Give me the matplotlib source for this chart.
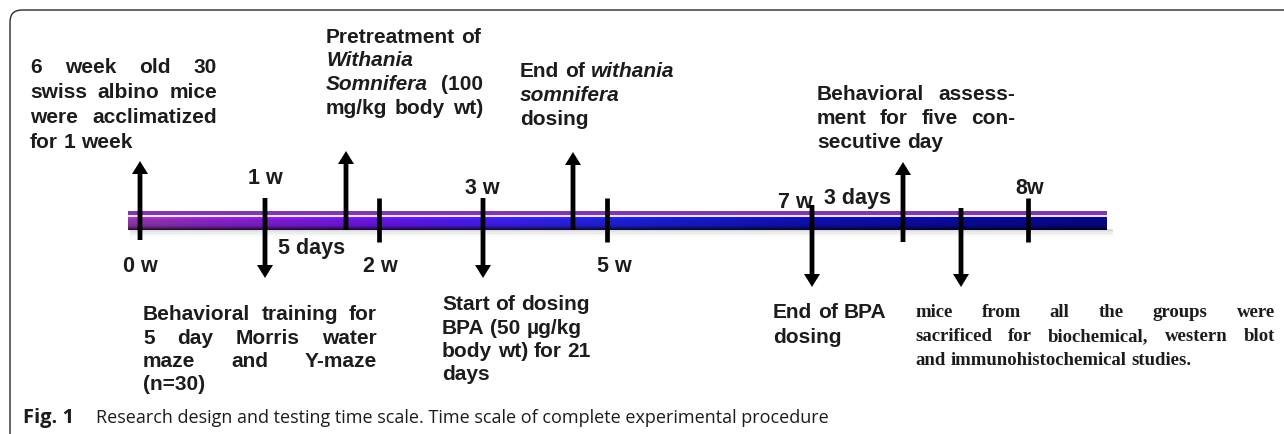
import numpy as np
import matplotlib
matplotlib.use("Agg")
import matplotlib.pyplot as plt
from matplotlib.patches import FancyBboxPatch, Rectangle
from matplotlib.colors import LinearSegmentedColormap

# timeline positions (pixel x of each event on the bar)
tick_x = [379, 607, 1028]                 # 2 w, 5 w, 8 w
up_x = [140, 346, 573, 903]
up_from = [240, 230, 230, 242]
up_to = [161, 151, 152, 162]
down_x = [265, 483, 812, 961]
down_from = [198, 198, 205, 208]
down_to = [278, 278, 287, 287]

mark_labels = ['0 w', '1 w', '5 days', '2 w', '3 w', '5 w', '7 w', '3 days', '8w']
mark_label_x = [140, 265, 312, 380, 482, 614, 795, 858, 1030]
mark_label_y = [272, 184, 254, 272, 194, 272, 208, 204, 194]

# text blocks: lines, "_word_" = italic, last flag = justified
blk_acclim = [("6 week old 30", True), ("swiss albino mice", True),
              ("were acclimatized", True), ("for 1 week", False)]
blk_pretreat = [("Pretreatment of", False), ("_Withania_", False),
                ("_Somnifera_ (100", True), ("mg/kg body wt)", True)]
blk_endwith = [("End of _withania_", False), ("_somnifera_", False), ("dosing", False)]
blk_assess = [("Behavioral assess-", True), ("ment for five con-", True),
              ("secutive day", False)]
blk_train = [("Behavioral training for", True), ("5 day Morris water", True),
             ("maze and Y-maze", True), ("(n=30)", False)]
blk_start = [("Start of dosing", False), ("BPA (50 µg/kg", False),
             ("body wt) for 21", False), ("days", False)]
blk_endbpa = [("End of BPA", False), ("dosing", False)]
blk_sacrifice = [("mice from all the groups were", True),
                 ("sacrificed for biochemical, western blot", True),
                 ("and immunohistochemical studies.", False)]

caption_bold = "Fig. 1"
caption_text = "Research design and testing time scale. Time scale of complete experimental procedure"

W, H = 1284, 434
fig = plt.figure(figsize=(W / 100, H / 100), dpi=100)
ax = fig.add_axes([0, 0, 1, 1])
ax.set_xlim(0, W)
ax.set_ylim(H, 0)
ax.axis('off')
renderer = fig.canvas.get_renderer()

INK = '#1c1c1c'
SANS = 'Liberation Sans'
SERIF = 'Liberation Serif'

# frame
ax.add_patch(FancyBboxPatch((10, 10), 1500, 600, boxstyle="round,pad=0,rounding_size=12",
                            fill=False, ec='#2a2a2a', lw=1.0))

# timeline bar
bar_x0, bar_x1 = 128, 1107
for i, a in enumerate([0.14, 0.10, 0.07, 0.04, 0.02]):
    ax.add_patch(Rectangle((bar_x0 + 2, 229 + i * 1.5), bar_x1 - bar_x0 + 4, 1.5,
                           color='black', alpha=a, lw=0))
cm = LinearSegmentedColormap.from_list('bar', [(0, '#8c34a4'), (0.1, '#8020c0'), (0.25, '#6414d8'),
                                               (0.38, '#3a1ee0'), (0.5, '#1a20cc'),
                                               (0.68, '#1010a8'), (0.85, '#0a0a90'), (1, '#06067c')])
cols = cm(np.linspace(0, 1, 500))[:, :3]
shade = np.array([1.2, 1.12, 1.05, 1.0, 1.0, 1.0, 0.97, 0.92, 0.85, 0.7, 0.5, 0.3])
img = np.clip(cols[None, :, :] * shade[:, None, None], 0, 1)
ax.imshow(img, extent=[bar_x0, bar_x1, 230, 217], aspect='auto', interpolation='bilinear', zorder=2)
ax.add_patch(Rectangle((bar_x0, 214.5), bar_x1 - bar_x0, 2.5, color='#f0def6', lw=0, zorder=2))
ax.add_patch(Rectangle((bar_x0, 211), bar_x1 - bar_x0, 3.5, color='#7e3aa8', lw=0, zorder=2))

# mark labels (drawn under the arrows)
for lab, x, y in zip(mark_labels, mark_label_x, mark_label_y):
    ax.text(x, y, lab, ha='center', va='baseline', fontsize=15.5, family=SANS,
            weight='bold', color=INK, zorder=3)

# ticks and arrows
ax.vlines(tick_x, 198, 242, colors='black', lw=3.4, zorder=4)
for x, y0, y1 in zip(up_x, up_from, up_to):
    ax.arrow(x, y0, 0, y1 - y0, width=4.8, head_width=16, head_length=13,
             length_includes_head=True, color='black', lw=0, zorder=4)
for x, y0, y1 in zip(down_x, down_from, down_to):
    ax.arrow(x, y0, 0, y1 - y0, width=4.8, head_width=16, head_length=13,
             length_includes_head=True, color='black', lw=0, zorder=4)


def measure(t):
    return t.get_window_extent(renderer).width


def space_w(size, family):
    a = ax.text(0, 0, "x x", fontsize=size, family=family, weight='bold')
    b = ax.text(0, 0, "xx", fontsize=size, family=family, weight='bold')
    w = measure(a) - measure(b)
    a.remove(); b.remove()
    return w


def block(lines, x0, x1, y0, step, size=15, family=SANS):
    sp = space_w(size, family)
    for k, (line, just) in enumerate(lines):
        y = y0 + k * step
        arts = []
        for word in line.split(' '):
            it = word.startswith('_')
            arts.append(ax.text(0, y, word.strip('_'), fontsize=size, family=family,
                                weight='bold', style='italic' if it else 'normal',
                                va='baseline', color=INK))
        widths = [measure(a) for a in arts]
        gap = (x1 - x0 - sum(widths)) / (len(arts) - 1) if just and len(arts) > 1 else sp
        x = x0
        for a, w in zip(arts, widths):
            a.set_x(x)
            x += w + gap


block(blk_acclim, 30, 217, 73, 25)
block(blk_pretreat, 326, 483, 43, 23.5)
block(blk_endwith, 520, 680, 77, 24)
block(blk_assess, 817, 1015, 100, 24)
block(blk_train, 143, 377, 320, 23.5)
block(blk_start, 442, 600, 310, 23.5)
block(blk_endbpa, 773, 900, 318, 25)
block(blk_sacrifice, 915, 1275, 317, 24, size=13.5, family=SERIF)

# caption
ax.text(23, 423, caption_bold, fontsize=14.5, family='Open Sans', weight='bold',
        va='baseline', color=INK)
ax.text(96, 423, caption_text, fontsize=13.0, family='Open Sans',
        va='baseline', color=INK)

fig.savefig('out.png', dpi=100)
